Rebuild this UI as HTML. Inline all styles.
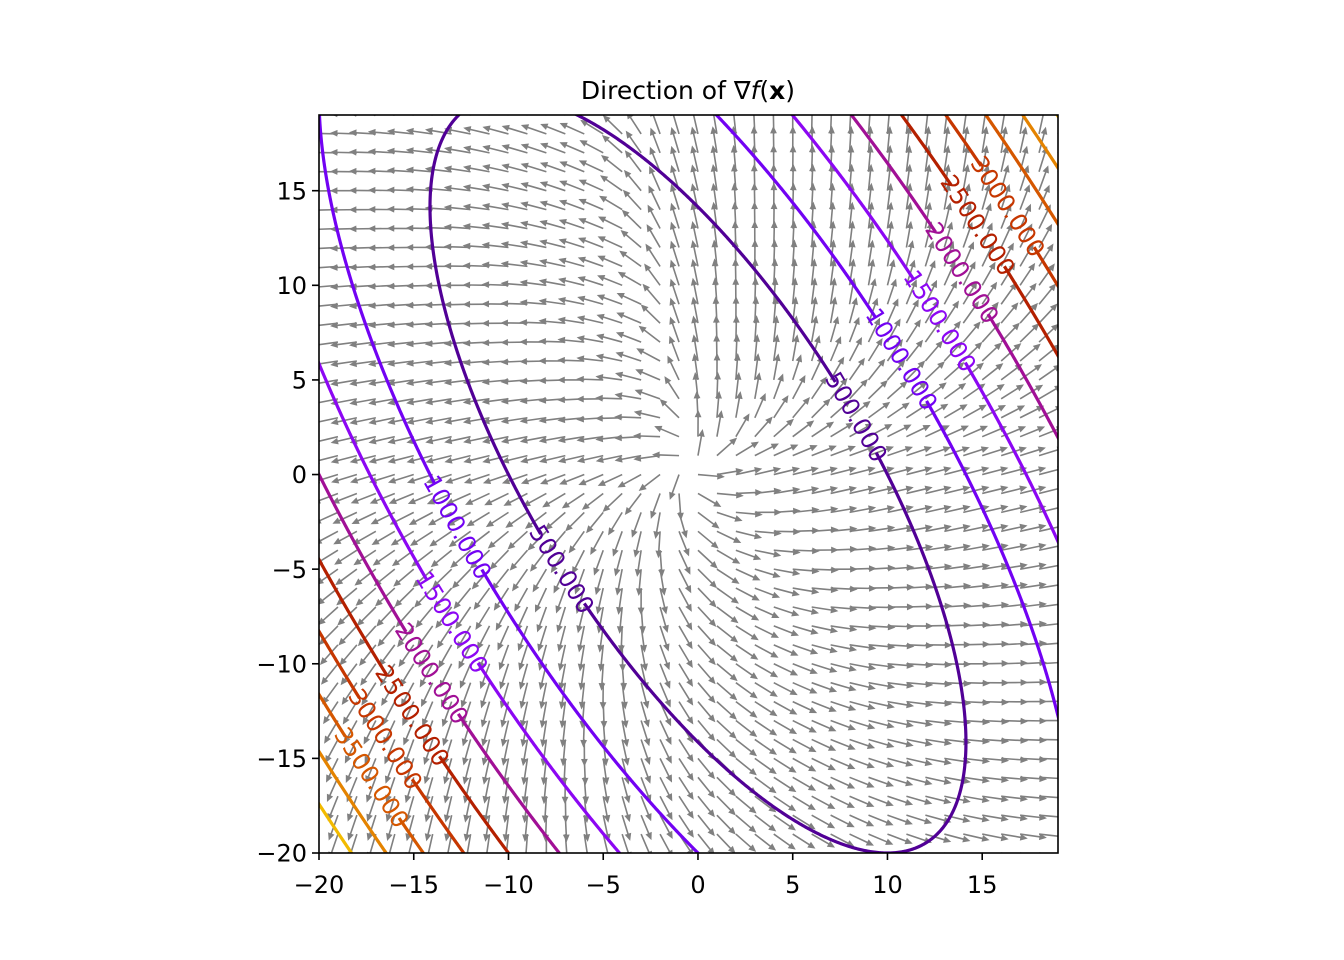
<!DOCTYPE html>
<html><head><meta charset="utf-8">
<style>
html,body{margin:0;padding:0;background:#fff;overflow:hidden;width:1344px;height:960px;position:relative;}
svg{display:block;position:absolute;left:0;top:0;font-family:"DejaVu Sans","Liberation Sans",sans-serif;}
</style></head>
<body>
<svg id="chart" width="1344" height="960" viewBox="0 0 1344 960" xmlns="http://www.w3.org/2000/svg">
<rect width="1344" height="960" fill="#fff"/>
<defs><clipPath id="axclip"><rect x="319" y="115" width="739" height="738"/></clipPath></defs>
<g id="quiver" clip-path="url(#axclip)"></g>
<g id="contours" clip-path="url(#axclip)"></g>
<g id="labels"></g>
<rect x="319" y="115" width="739" height="738" fill="none" stroke="#000" stroke-width="1.6"/>
<g id="ticks"></g>
<text x="688" y="99" text-anchor="middle" font-size="25" fill="#000">Direction of ∇<tspan font-style="italic">f</tspan>(<tspan font-weight="bold">x</tspan>)</text>
</svg>
<script>
// ---- data ----
const xTicks = [-20,-15,-10,-5,0,5,10,15];
const yTicks = [-20,-15,-10,-5,0,5,10,15];
const quadCoef = [5, 5, 2.5];            // f = a x^2 + b x y + c y^2
const levels = [500,1000,1500,2000,2500,3000,3500,4000,4500];
const labelLevels = [500,1000,1500,2000,2500,3000,500,1000,1500,2000,2500,3000,3500];
const labelX = [8.5,11.1,12.9,14.0,14.8,16.5,-6.9,-12.3,-12.8,-13.9,-14.9,-16.4,-17.1];
const labelY = [3.1,6.3,8.2,10.7,13.2,14.3,-4.8,-2.7,-7.7,-10.4,-12.6,-13.9,-15.9];
// quiver direction field (ray angle from centre -> arrow angle), degrees
const rayAngles   = [-45,-14,0,45,78,95,106,135,180,225,246,258,278,315];
const arrowAngles = [-5,12,15,80,92,110,155,178,195,250,265,285,320,355];
const quiverCenter = [-0.5, 0.5];
const gridX = []; for (let v=-20; v<=19; v++) gridX.push(v);
const gridY = []; for (let v=-20; v<=19; v++) gridY.push(v);

// ---- axes ----
const X0=319, X1=1058, Y0=853, Y1=115;
const xmin=-20, xmax=19, ymin=-20, ymax=19;
const sx = x => X0 + (x-xmin)/(xmax-xmin)*(X1-X0);
const sy = y => Y0 - (y-ymin)/(ymax-ymin)*(Y0-Y1);
const NS='http://www.w3.org/2000/svg';
function mk(tag, attrs, parent){ const e=document.createElementNS(NS,tag); for(const k in attrs) e.setAttribute(k,attrs[k]); parent.appendChild(e); return e; }
const fmt = v => (v<0?'\u2212':'')+Math.abs(v);

const tg=document.getElementById('ticks');
xTicks.forEach(v=>{
  const l=mk('line',{x1:sx(v),x2:sx(v),y1:Y0,y2:Y0+7,stroke:'#000','stroke-width':1.6},tg);
  
  
  const t=mk('text',{x:sx(v),y:893,'text-anchor':'middle','font-size':24},tg);
  t.textContent=fmt(v);
  
  
});
yTicks.forEach(v=>{
  const l=mk('line',{x1:X0-7,x2:X0,y1:sy(v),y2:sy(v),stroke:'#000','stroke-width':1.6},tg);
  
  
  const t=mk('text',{x:X0-12,y:sy(v)+8.6,'text-anchor':'end','font-size':24},tg);
  t.textContent=fmt(v);
  
  
});

function cmap(L){
  const t=L/5000;
  const r=Math.sqrt(t), g=t*t*t, b=Math.max(0,Math.sin(2*Math.PI*t));
  return 'rgb('+Math.round(r*255)+','+Math.round(g*255)+','+Math.round(b*255)+')';
}
const f=(x,y)=>quadCoef[0]*x*x+quadCoef[1]*x*y+quadCoef[2]*y*y;

const lg=document.getElementById('labels');
const labelInfo=labelLevels.map((L,i)=>{
  const ang=Math.atan2(labelY[i],labelX[i]);
  const ux=Math.cos(ang), uy=Math.sin(ang);
  const r=Math.sqrt(L/f(ux,uy));
  const px=r*ux, py=r*uy;
  const gx=2*quadCoef[0]*px+quadCoef[1]*py, gy=quadCoef[1]*px+2*quadCoef[2]*py;
  let rot=Math.atan2(-gx,-gy)*180/Math.PI;
  while(rot>90) rot-=180; while(rot<-90) rot+=180;
  const w=String(L).length*15.3+15.3+20;
  return {L,cx:sx(px),cy:sy(py),rot,w};
});

function inLabel(X,Y,list){
  for(const o of list){
    const a=o.rot*Math.PI/180;
    const dx=X-o.cx, dy=Y-o.cy;
    const along=dx*Math.cos(a)+dy*Math.sin(a);
    const perp=-dx*Math.sin(a)+dy*Math.cos(a);
    if(Math.abs(along)<o.w/2 && Math.abs(perp)<16) return true;
  }
  return false;
}

const cg=document.getElementById('contours');
levels.forEach((L,li)=>{
  const lbls=labelInfo.filter(o=>o.L===L);
  let d='', pen=false;
  const N=2880;
  for(let k=0;k<=N;k++){
    const t=k/N*2*Math.PI, ux=Math.cos(t), uy=Math.sin(t);
    const r=Math.sqrt(L/f(ux,uy));
    const X=sx(r*ux), Y=sy(r*uy);
    if(inLabel(X,Y,lbls)){ pen=false; continue; }
    d+=(pen?'L':'M')+X.toFixed(2)+','+Y.toFixed(2);
    pen=true;
  }
  const p=mk('path',{d,fill:'none',stroke:cmap(L),'stroke-width':3.2},cg);
  
  
});
labelInfo.forEach(o=>{
  const t=mk('text',{x:o.cx,y:o.cy+8.5,'text-anchor':'middle','font-size':24,fill:cmap(o.L),transform:`rotate(${o.rot} ${o.cx} ${o.cy})`},lg);
  t.textContent=o.L.toFixed(3);
  
  
});

function arrowAngle(phi){
  const n=rayAngles.length;
  while(phi<rayAngles[0]) phi+=360; while(phi>=rayAngles[0]+360) phi-=360;
  for(let i=0;i<n;i++){
    const a0=rayAngles[i], a1=(i+1<n)?rayAngles[i+1]:rayAngles[0]+360;
    const b0=arrowAngles[i], b1=(i+1<n)?arrowAngles[i+1]:arrowAngles[0]+360;
    if(phi>=a0&&phi<=a1) return b0+(b1-b0)*(phi-a0)/(a1-a0);
  }
  return phi;
}
const qg=document.getElementById('quiver');
const LEN=27, SW=0.8, HW=3.4, HL=7.5;
gridY.forEach(y=>{ gridX.forEach(x=>{
  const phi=Math.atan2(y-quiverCenter[1], x-quiverCenter[0])*180/Math.PI;
  const psi=arrowAngle(phi);
  const tx=sx(x), ty=sy(y);
  const pts=`0,${-SW} ${LEN-HL},${-SW} ${LEN-HL},${-HW} ${LEN},0 ${LEN-HL},${HW} ${LEN-HL},${SW} 0,${SW}`;
  const a=mk('polygon',{points:pts,fill:'#808080',transform:`translate(${tx.toFixed(2)},${ty.toFixed(2)}) rotate(${(-psi).toFixed(2)})`},qg);
  
  
});});
</script>
</body></html>
